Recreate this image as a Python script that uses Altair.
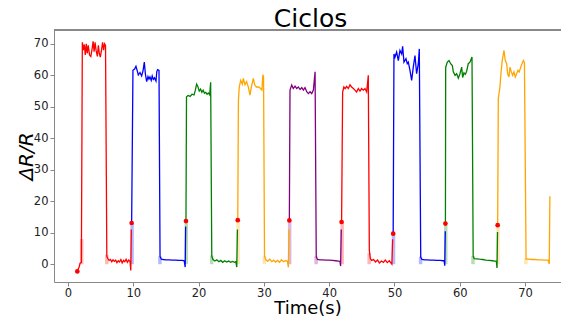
import altair as alt
import pandas as pd

cycle_ids = ["c1", "c2", "c3", "c4", "c5", "c6", "c7", "c8", "c9"]
cycle_colors = ["red", "blue", "green", "orange", "purple", "red", "blue", "green", "orange"]

c1_t = [1.43, 1.55, 1.7, 1.85, 2.05, 2.2, 2.35, 2.5, 2.65, 2.8, 2.95, 3.1, 3.3, 3.5, 3.7, 3.85, 4.0, 4.15, 4.3, 4.5,
        4.65, 4.8, 4.95, 5.1, 5.3, 5.45, 5.6, 5.75, 5.95, 6.1, 6.3, 6.5, 6.7, 6.9, 7.1, 7.3, 7.5, 7.7, 7.9, 8.1,
        8.3, 8.5, 8.7, 8.9, 9.1, 9.3, 9.5, 9.62, 9.7]
c1_v = [-2.3, -1.6, -1.0, 0.3, 0.5, 70.5, 68.0, 69.8, 66.5, 70.0, 67.0, 69.5, 66.5, 66.0, 68.5, 70.8, 67.5, 70.5, 68.0, 66.0,
        69.5, 67.0, 65.8, 67.5, 70.5, 68.0, 70.0, 69.5, 2.5, 1.8, 1.2, 1.5, 0.8, 1.4, 0.9, 1.3, 0.5, 1.1, 0.7, 1.5,
        0.4, 1.2, 0.8, 1.6, 0.6, 1.3, 0.9, -2.0, 11.0]

c2_t = [9.75, 9.95, 10.2, 10.41, 10.6, 10.77, 11.03, 11.28, 11.5, 11.69, 11.85, 12.05, 12.25, 12.4, 12.56, 12.75, 12.9,
        13.07, 13.25, 13.48, 13.6, 13.73, 13.94, 14.1, 14.3, 14.6, 15.0, 15.5, 16.0, 16.5, 17.0, 17.5, 17.8, 17.95, 18.02]
c2_v = [13.1, 61.6, 62.0, 62.9, 61.5, 60.1, 60.9, 59.8, 61.5, 64.2, 60.5, 58.0, 59.6, 58.8, 59.5, 58.4, 59.8,
        58.7, 59.2, 58.2, 61.2, 61.8, 61.6, 2.4, 1.6, 1.5, 1.4, 1.4, 1.3, 1.3, 1.2, 1.2, 1.1, -0.9, 12.0]

c3_t = [18.07, 18.15, 18.4, 18.7, 19.0, 19.3, 19.5, 19.7, 19.9, 20.1, 20.3, 20.5, 20.7, 20.9, 21.1, 21.3, 21.5, 21.7,
        21.85, 22.02, 22.2, 22.5, 22.8, 23.1, 23.4, 23.7, 24.0, 24.3, 24.6, 24.9, 25.2, 25.5, 25.7, 25.85, 25.95]
c3_v = [13.7, 53.2, 53.6, 53.3, 54.0, 53.8, 55.2, 57.2, 56.4, 55.0, 55.6, 54.6, 55.3, 54.3, 54.6, 54.0, 54.4, 53.8,
        57.8, 2.6, 1.5, 1.0, 1.4, 0.8, 1.2, 0.6, 1.1, 0.7, 1.0, 0.6, 0.9, 0.6, 0.8, -0.9, 11.0]

c4_t = [26.0, 26.1, 26.23, 26.45, 26.7, 26.85, 27.1, 27.35, 27.6, 27.87, 28.1, 28.38, 28.6, 28.85, 29.2, 29.5, 29.7,
        29.85, 29.95, 30.1, 30.3, 30.6, 30.9, 31.2, 31.5, 31.8, 32.1, 32.4, 32.7, 33.0, 33.3, 33.6, 33.75, 33.85]
c4_v = [14.0, 52.0, 56.3, 58.4, 57.2, 59.0, 57.0, 58.0, 56.4, 53.7, 56.5, 59.0, 57.0, 56.3, 56.3, 55.8, 55.3,
        60.2, 59.5, 2.5, 1.4, 1.0, 1.6, 0.8, 1.3, 0.7, 1.2, 0.6, 1.4, 0.8, 1.1, 1.0, -1.0, 11.0]

c5_t = [33.9, 34.0, 34.26, 34.5, 34.77, 35.03, 35.28, 35.54, 35.8, 36.05, 36.3, 36.56, 36.82, 37.07, 37.33, 37.58,
        37.84, 38.02, 38.2, 38.6, 39.0, 39.5, 40.0, 40.5, 41.0, 41.4, 41.65, 41.75, 41.85]
c5_v = [13.9, 55.3, 56.9, 55.8, 56.6, 55.8, 56.3, 55.5, 56.1, 55.3, 56.1, 54.8, 54.2, 54.8, 54.2, 55.3,
        61.1, 2.3, 1.5, 1.4, 1.4, 1.3, 1.3, 1.2, 1.1, 1.0, 0.9, -0.6, 11.0]

c6_t = [41.9, 42.06, 42.25, 42.45, 42.67, 42.93, 43.19, 43.44, 43.7, 43.95, 44.2, 44.46, 44.72, 44.97, 45.23, 45.48,
        45.74, 45.99, 46.15, 46.3, 46.5, 46.8, 47.1, 47.4, 47.7, 48.0, 48.3, 48.6, 48.9, 49.2, 49.45, 49.6, 49.72]
c6_v = [13.4, 54.7, 56.3, 55.8, 56.5, 55.8, 57.0, 56.3, 55.8, 55.3, 54.7, 55.8, 55.0, 55.8, 55.3, 55.8,
        54.7, 60.0, 4.4, 1.8, 1.2, 1.5, 0.7, 1.3, 0.4, 1.0, 0.6, 1.3, 0.5, 1.1, 0.4, 0.0, 7.9]

c7_t = [49.8, 49.92, 50.08, 50.33, 50.59, 50.84, 51.1, 51.25, 51.45, 51.76, 51.96, 52.12, 52.37, 52.63, 52.88, 53.14,
        53.39, 53.65, 53.8, 54.02, 54.2, 54.6, 55.0, 55.5, 56.0, 56.5, 57.0, 57.4, 57.6, 57.7, 57.78]
c7_v = [9.7, 66.8, 65.8, 67.4, 64.7, 67.9, 66.8, 69.2, 64.2, 65.3, 63.7, 64.2, 61.6, 58.4, 62.6, 66.3,
        60.5, 63.7, 68.4, 2.2, 1.5, 1.4, 1.4, 1.3, 1.3, 1.2, 1.2, 1.1, 1.1, -0.5, 10.5]

c8_t = [57.8, 57.84, 58.09, 58.35, 58.6, 58.86, 59.01, 59.27, 59.52, 59.78, 60.03, 60.29, 60.44, 60.64, 60.85, 61.05,
        61.3, 61.56, 61.76, 61.87, 62.05, 62.2, 62.6, 63.0, 63.5, 64.0, 64.5, 65.0, 65.4, 65.6, 65.7, 65.78]
c8_v = [12.9, 62.5, 64.2, 64.7, 63.7, 63.1, 61.1, 60.0, 60.5, 59.1, 60.5, 62.6, 59.3, 60.8, 60.3, 61.3,
        63.7, 64.2, 65.3, 65.8, 2.5, 1.8, 1.7, 1.6, 1.5, 1.3, 1.2, 1.1, 1.0, 0.9, -1.2, 10.2]

c9_t = [65.8, 65.9, 66.15, 66.3, 66.5, 66.77, 66.97, 67.18, 67.33, 67.53, 67.69, 67.89, 68.1, 68.3, 68.5, 68.71,
        68.91, 69.11, 69.33, 69.53, 69.73, 69.9, 70.15, 70.5, 71.0, 71.5, 72.0, 72.5, 73.0, 73.5, 73.7, 73.8]
c9_v = [12.4, 52.6, 56.3, 60.5, 64.7, 67.9, 64.7, 63.7, 60.5, 59.5, 62.6, 61.1, 60.0, 61.1, 59.5, 60.5,
        61.6, 61.1, 62.6, 63.7, 64.7, 64.0, 1.6, 1.6, 1.5, 1.5, 1.4, 1.4, 1.3, 1.3, 0.1, 21.6]

dots_t = [1.43, 9.75, 18.07, 26.0, 33.9, 41.9, 49.8, 57.8, 65.8]
dots_v = [-2.3, 13.1, 13.7, 14.0, 13.9, 13.4, 9.7, 12.9, 12.4]

rise_band_t = [2.1, 9.82, 18.12, 26.05, 33.95, 41.98, 49.85, 57.85, 65.85]
rise_band_top = [8.0, 13.1, 13.7, 14.0, 13.9, 13.4, 9.7, 12.9, 12.4]
fall_band_t = [5.95, 14.08, 22.0, 30.08, 38.0, 46.12, 54.0, 62.02, 70.12]
fall_band_top = [3.0, 2.5, 2.8, 2.6, 2.5, 3.5, 2.4, 2.6, 2.0]

series_t = [c1_t, c2_t, c3_t, c4_t, c5_t, c6_t, c7_t, c8_t, c9_t]
series_v = [c1_v, c2_v, c3_v, c4_v, c5_v, c6_v, c7_v, c8_v, c9_v]

rows = []
for cid, ts, vs in zip(cycle_ids, series_t, series_v):
    for i, (t, v) in enumerate(zip(ts, vs)):
        rows.append({"cycle": cid, "t": t, "v": v, "i": i})
lines_df = pd.DataFrame(rows)

bands_df = pd.DataFrame(
    [{"cycle": c, "t": t, "lo": 0.0, "hi": h} for c, t, h in zip(cycle_ids, rise_band_t, rise_band_top)]
    + [{"cycle": c, "t": t, "lo": 0.0, "hi": h} for c, t, h in zip(cycle_ids, fall_band_t, fall_band_top)]
)
dots_df = pd.DataFrame({"t": dots_t, "v": dots_v})

W, H = 507, 252
FONT = "DejaVu Sans"

xscale = alt.Scale(domain=[-2.14, 75.5], nice=False, zero=False)
yscale = alt.Scale(domain=[-5.65, 74.4], nice=False, zero=False)
cscale = alt.Scale(domain=cycle_ids, range=cycle_colors)

ticks = [0, 10, 20, 30, 40, 50, 60, 70]
xaxis = alt.Axis(values=ticks, title="Time(s)", grid=False, labelOverlap=False,
                 labelFontSize=11.5, titleFontSize=18, titleFontWeight="normal",
                 labelFont=FONT, titleFont=FONT, labelColor="#222", titleColor="black",
                 domainColor="#888", tickColor="#888", tickSize=4, labelPadding=1,
                 titleBaseline="alphabetic", titleY=31.5)
yaxis = alt.Axis(values=ticks, title="ΔR/R", grid=False, labelOverlap=False,
                 labelFontSize=11.5, titleFontSize=20, titleFontWeight="normal", titleFontStyle="italic",
                 labelFont=FONT, titleFont=FONT, labelColor="#222", titleColor="black",
                 domainColor="#888", tickColor="#888", tickSize=4, labelPadding=2,
                 titleBaseline="alphabetic", titleX=-22, titleY=H / 2)

bands = alt.Chart(bands_df).mark_rule(strokeWidth=3.5, opacity=0.28).encode(
    x=alt.X("t:Q", scale=xscale, axis=xaxis),
    y=alt.Y("lo:Q", scale=yscale, axis=yaxis),
    y2="hi:Q",
    color=alt.Color("cycle:N", scale=cscale, legend=None),
)

lines = alt.Chart(lines_df).mark_line(strokeWidth=1.3).encode(
    x=alt.X("t:Q", scale=xscale, axis=xaxis),
    y=alt.Y("v:Q", scale=yscale, axis=yaxis),
    color=alt.Color("cycle:N", scale=cscale, legend=None),
    detail="cycle:N",
    order="i:Q",
)

dots = alt.Chart(dots_df).mark_circle(size=22, color="red", opacity=1).encode(
    x=alt.X("t:Q", scale=xscale, axis=xaxis),
    y=alt.Y("v:Q", scale=yscale, axis=yaxis),
)

top_frame = alt.Chart(dots_df).mark_rule(color="#888", strokeWidth=1).encode(
    x=alt.value(0), x2=alt.value(W), y=alt.value(0)
)

chart = alt.layer(bands, lines, dots, top_frame).properties(
    width=W, height=H,
    title=alt.TitleParams("Ciclos", fontSize=25, font=FONT, fontWeight="normal", anchor="middle",
                          color="black", offset=3, dy=5.5, dx=3),
    autosize=alt.AutoSizeParams(type="none"),
    padding={"left": 46, "top": 22, "right": 0, "bottom": 34},
).configure_view(stroke=None)

chart.save("out.html", embed_options={"renderer": "svg", "actions": False})
